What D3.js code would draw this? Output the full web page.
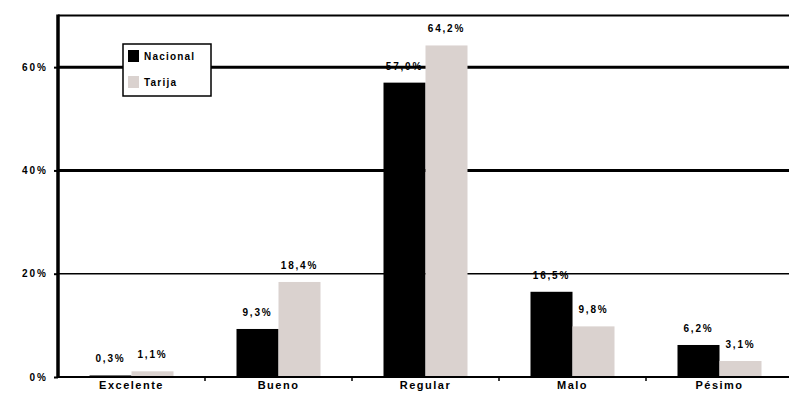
<!DOCTYPE html>
<html>
<head>
<meta charset="utf-8">
<script src="https://cdn.jsdelivr.net/npm/d3@7"></script>
<style>
  html, body { margin: 0; padding: 0; background: #fff; }
  svg { display: block; }
  text { font-family: "Liberation Sans", Arial, sans-serif; fill: #000; }
</style>
</head>
<body>
<svg id="chart" width="789" height="405"></svg>
<script>
const categories = ["Excelente", "Bueno", "Regular", "Malo", "Pésimo"];
const seriesNames = ["Nacional", "Tarija"];
const nacional = [0.3, 9.3, 57.0, 16.5, 6.2];
const tarija = [1.1, 18.4, 64.2, 9.8, 3.1];
const yTicks = [0, 20, 40, 60];
const colors = ["#000000", "#dad2cf"];

const svg = d3.select("#chart");
const mLeft = 58, mRight = 793, mTop = 15.5, mBottom = 377;

const x0 = d3.scaleBand().domain(categories).range([mLeft, mRight]).padding(0);
const x1 = d3.scaleBand().domain(seriesNames).range([0, x0.bandwidth()]).paddingInner(0).paddingOuter(0.75);
const y = d3.scaleLinear().domain([0, 70]).range([mBottom, mTop]);
const color = d3.scaleOrdinal().domain(seriesNames).range(colors);

const fmt = v => d3.format(".1f")(v).replace(".", ",") + "%";

// gridlines
const gridW = {0: 0, 20: 1.5, 40: 3, 60: 3};
svg.append("g").selectAll("line").data(yTicks.filter(t => t > 0)).join("line")
  .attr("x1", mLeft).attr("x2", 789)
  .attr("y1", d => y(d)).attr("y2", d => y(d))
  .attr("stroke", "#000").attr("stroke-width", d => gridW[d]);

// top border
svg.append("line").attr("x1", mLeft).attr("x2", 789).attr("y1", mTop).attr("y2", mTop)
  .attr("stroke", "#000").attr("stroke-width", 2);

// bars
const data = categories.map((c, i) => ({cat: c, vals: [
  {s: seriesNames[0], v: nacional[i]}, {s: seriesNames[1], v: tarija[i]}]}));

const groups = svg.append("g").selectAll("g").data(data).join("g")
  .attr("transform", d => `translate(${x0(d.cat)},0)`);

groups.selectAll("rect").data(d => d.vals).join("rect")
  .attr("x", d => x1(d.s)).attr("width", x1.bandwidth())
  .attr("y", d => y(d.v)).attr("height", d => y(0) - y(d.v))
  .attr("fill", d => color(d.s));

groups.selectAll("text").data(d => d.vals).join("text")
  .attr("x", d => x1(d.s) + x1.bandwidth() / 2)
  .attr("y", d => y(d.v) - 13)
  .attr("text-anchor", "middle")
  .attr("font-size", 10).attr("font-weight", "bold").attr("letter-spacing", 1.8)
  .text(d => fmt(d.v));

// x axis
const xAxis = svg.append("g").attr("transform", `translate(0,${mBottom})`)
  .call(d3.axisBottom(x0).tickSize(0).tickPadding(4));
xAxis.select(".domain").remove();
xAxis.selectAll("text").attr("font-size", 11).attr("font-weight", "bold")
  .attr("letter-spacing", 1.5).style("font-family", "\"Liberation Sans\", Arial, sans-serif").attr("fill", "#000");
svg.append("line").attr("x1", mLeft).attr("x2", 789).attr("y1", mBottom).attr("y2", mBottom)
  .attr("stroke", "#000").attr("stroke-width", 2);
svg.append("g").selectAll("line").data(categories.slice(1)).join("line")
  .attr("x1", d => x0(d)).attr("x2", d => x0(d))
  .attr("y1", mBottom).attr("y2", mBottom + 4)
  .attr("stroke", "#000").attr("stroke-width", 1.5);

// y axis
const yAxis = svg.append("g").attr("transform", `translate(${mLeft},0)`)
  .call(d3.axisLeft(y).tickValues(yTicks).tickSize(4).tickPadding(6).tickFormat(d => d + "%"));
yAxis.select(".domain").remove();
yAxis.selectAll(".tick line").attr("stroke", "#000").attr("stroke-width", 2);
yAxis.selectAll("text").attr("font-size", 10).attr("font-weight", "bold")
  .attr("letter-spacing", 2).style("font-family", "\"Liberation Sans\", Arial, sans-serif").attr("fill", "#000");
svg.append("line").attr("x1", mLeft).attr("x2", mLeft).attr("y1", mTop - 1).attr("y2", mBottom + 1)
  .attr("stroke", "#000").attr("stroke-width", 3.5);

// legend
const lg = svg.append("g").attr("transform", "translate(123,44)");
lg.append("rect").attr("width", 88).attr("height", 52).attr("fill", "#fff")
  .attr("stroke", "#000").attr("stroke-width", 1.5);
const items = lg.selectAll("g").data(seriesNames).join("g")
  .attr("transform", (d, i) => `translate(5,${6 + i * 26})`);
items.append("rect").attr("width", 11).attr("height", 12).attr("fill", d => color(d));
items.append("text").attr("x", 16).attr("y", 10)
  .attr("font-size", 10).attr("font-weight", "bold").attr("letter-spacing", 1.2)
  .text(d => d);
</script>
</body>
</html>
